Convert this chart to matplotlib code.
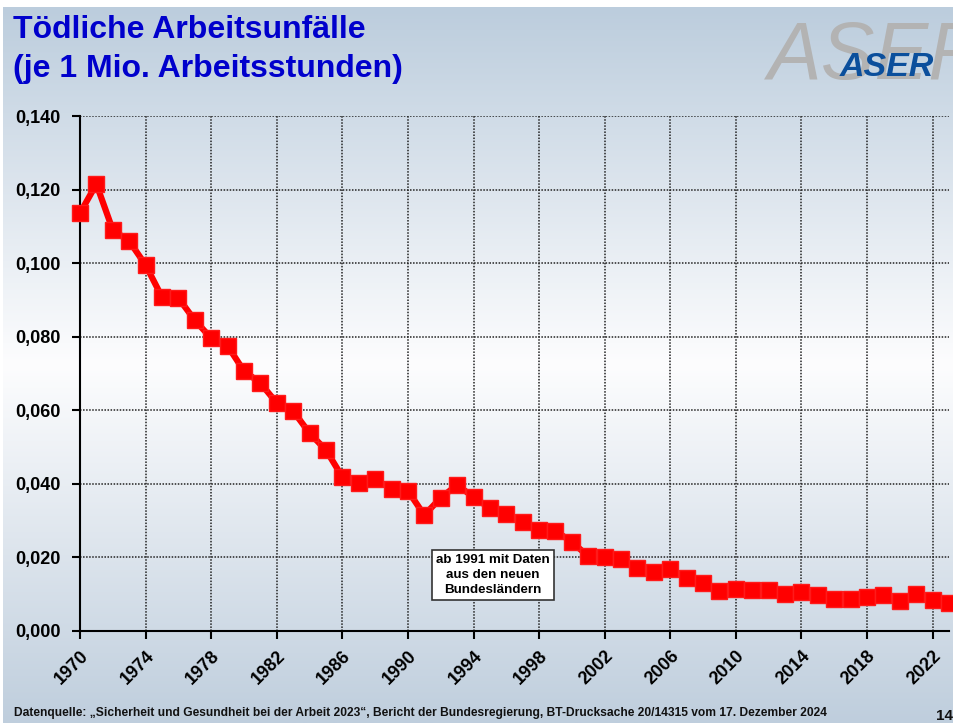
import numpy as np
import matplotlib
matplotlib.use("Agg")
import matplotlib.pyplot as plt
from matplotlib.colors import LinearSegmentedColormap
from matplotlib import rcParams
rcParams['font.family'] = ['Liberation Sans', 'DejaVu Sans']

years = list(range(1970, 2024))
rate = [0.1136, 0.1215, 0.1090, 0.1060, 0.0995, 0.0908, 0.0905, 0.0845, 0.0796, 0.0775,
        0.0707, 0.0674, 0.0620, 0.0598, 0.0538, 0.0492, 0.0419, 0.0402, 0.0413, 0.0386,
        0.0381, 0.0315, 0.0362, 0.0397, 0.0364, 0.0334, 0.0318, 0.0296, 0.0275, 0.0272,
        0.0242, 0.0203, 0.0200, 0.0196, 0.0172, 0.0160, 0.0169, 0.0143, 0.0130, 0.0109,
        0.0114, 0.0112, 0.0112, 0.0101, 0.0106, 0.0097, 0.0088, 0.0088, 0.0092, 0.0097,
        0.0082, 0.0101, 0.0084, 0.0077]
xticks = list(range(1970, 2023, 4))
yticks = [0.0, 0.02, 0.04, 0.06, 0.08, 0.10, 0.12, 0.14]
ylabels = ["{:.3f}".format(v).replace(".", ",") for v in yticks]

title1 = "Tödliche Arbeitsunfälle"
title2 = "(je 1 Mio. Arbeitsstunden)"
note = "ab 1991 mit Daten\naus den neuen\nBundesländern"
source = ("Datenquelle: \u201eSicherheit und Gesundheit bei der Arbeit 2023\u201c, "
          "Bericht der Bundesregierung, BT-Drucksache 20/14315 vom 17. Dezember 2024")

fig = plt.figure(figsize=(9.54, 7.23), dpi=100)
fig.patch.set_facecolor("white")

# background gradient
bg = fig.add_axes([3/954, 0, 951/954, 716/723], zorder=-10)
bg.axis("off")
cmap = LinearSegmentedColormap.from_list(
    "bg", [(0.0, "#bccddd"), (0.5, "#fdfdfe"), (1.0, "#bfcedd")])
grad = np.linspace(0, 1, 256).reshape(-1, 1)
bg.imshow(grad, aspect="auto", cmap=cmap, extent=(0, 1, 0, 1))

ax = fig.add_axes([80/954, 1 - 631/723, 869/954, 515/723])
ax.set_facecolor("none")
ax.plot(years, rate, color="#ff0000", lw=4.5, marker="s", ms=12,
        mec="#ff1a1a", mew=1, clip_on=False, zorder=5)

ax.set_xlim(1970, 2023)
ax.set_ylim(0, 0.14)
ax.set_xticks(xticks)
ax.set_xticklabels([str(y) for y in xticks], rotation=45, ha="right",
                   rotation_mode="anchor", fontsize=13, fontweight="bold")
ax.set_yticks(yticks)
ax.set_yticklabels(ylabels, fontsize=13, fontweight="bold")
ax.tick_params(axis="both", length=6, width=1.5, color="black")
ax.tick_params(axis="y", pad=8)
ax.tick_params(axis="x", pad=6)
ax.grid(True, color="#222222", lw=1.1, linestyle=(0, (1, 1)))
for s in ["top", "right"]:
    ax.spines[s].set_visible(False)
for s in ["left", "bottom"]:
    ax.spines[s].set_linewidth(1.5)
ax.set_axisbelow(True)

ax.text(1995.2, 0.0152, note, ha="center", va="center", fontsize=9.6,
        fontweight="bold", linespacing=1.3, zorder=6,
        bbox=dict(boxstyle="square,pad=0.3", fc="white", ec="#333333", lw=1.2))

fig.text(13/954, 1 - 38/723, title1, ha="left", va="baseline", fontsize=23,
         fontweight="bold", color="#0000cc")
fig.text(13/954, 1 - 77/723, title2, ha="left", va="baseline", fontsize=23,
         fontweight="bold", color="#0000cc")

# logo
fig.text(768/954, 1 - 79/723, "ASER", ha="left", va="baseline", fontsize=58,
         style="italic", color="#b3b3b3")
fig.text(840/954, 1 - 76/723, "ASER", ha="left", va="baseline", fontsize=24.5,
         style="italic", fontweight="bold", color="#0b4f9c")

fig.text(14/954, 1 - 716/723, source, ha="left", va="baseline", fontsize=8.65,
         fontweight="bold", color="#111111")
fig.text(953/954, 1 - 720/723, "14", ha="right", va="baseline", fontsize=11,
         fontweight="bold", color="#111111")

fig.savefig("out.png", dpi=100)
